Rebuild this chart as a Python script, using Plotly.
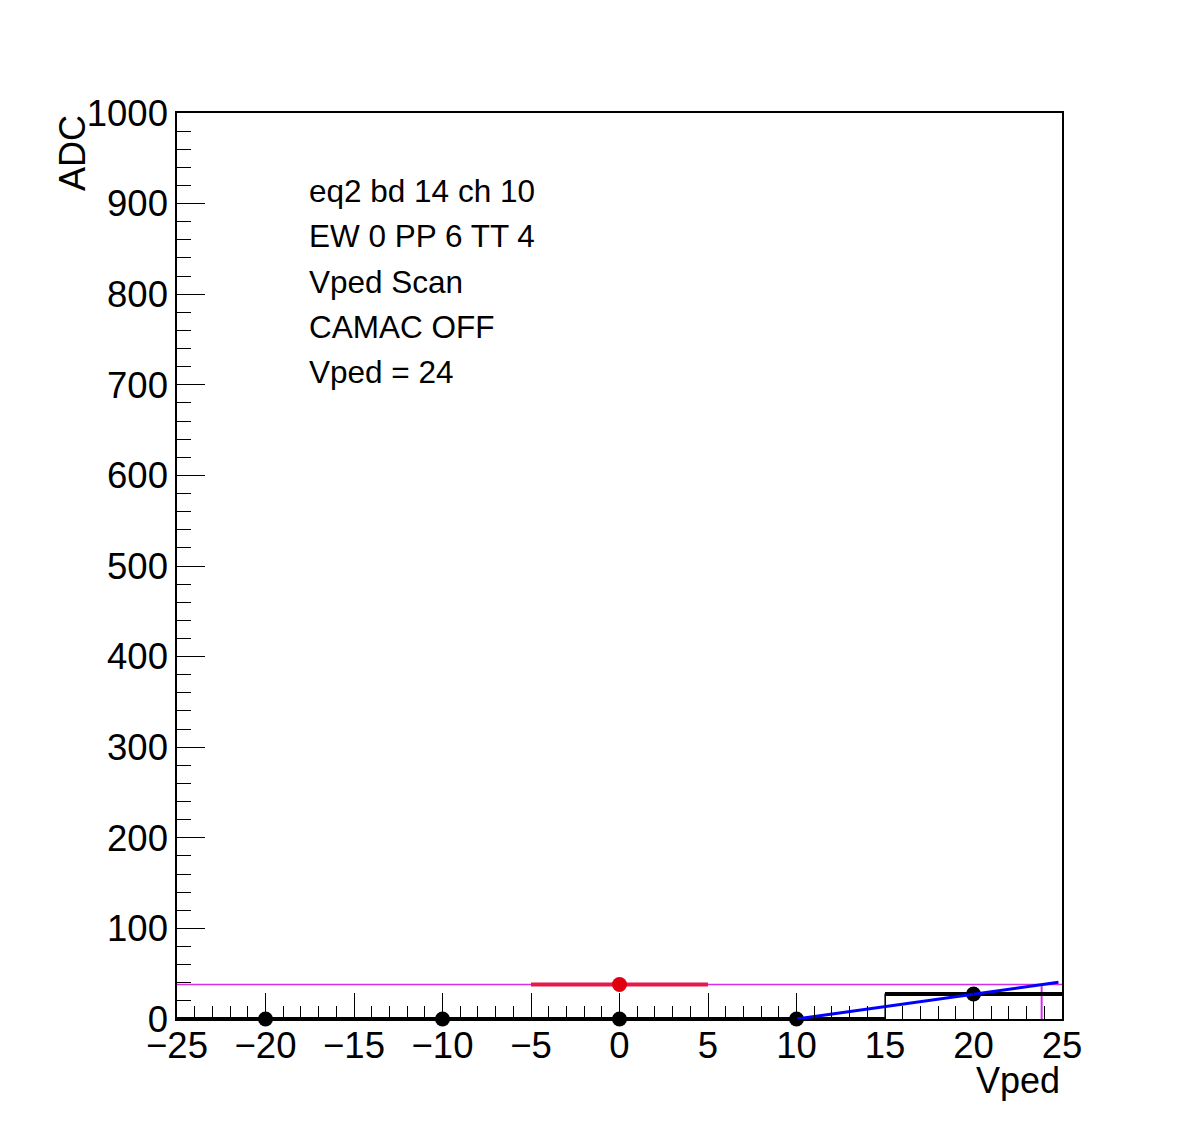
import plotly.graph_objects as go

# ---- data ----
bin_centers = [-20, -10, 0, 10, 20]
bin_contents = [0, 0, 0, 0, 27.6]
bin_width = 10

ped_x = [0]
ped_y = [38]
ped_xerr = [5]

fit_x = [10, 24.8]
fit_y = [0, 40.5]

ped_level = 38
vped_cross = 23.85

x_range = [-25, 25]
y_range = [0, 1000]

info_lines = ["eq2 bd 14 ch 10", "EW 0 PP 6 TT 4", "Vped Scan", "CAMAC OFF", "Vped = 24"]

FONT = "Liberation Sans, Arial, Helvetica, sans-serif"

fig = go.Figure()

# magenta horizontal pedestal level
fig.add_trace(go.Scatter(x=x_range, y=[ped_level, ped_level], mode="lines",
                         line=dict(color="#d62ee6", width=1.5), showlegend=False, hoverinfo="skip"))
# magenta vertical at crossing
fig.add_trace(go.Scatter(x=[vped_cross, vped_cross], y=[0, ped_level], mode="lines",
                         line=dict(color="#d62ee6", width=2), showlegend=False, hoverinfo="skip"))

# histogram thin outline (step)
edges = [c - bin_width / 2 for c in bin_centers] + [bin_centers[-1] + bin_width / 2]
step_y = bin_contents + [bin_contents[-1]]
fig.add_trace(go.Scatter(x=edges, y=step_y, mode="lines", line_shape="hv",
                         line=dict(color="black", width=1.2), showlegend=False, hoverinfo="skip"))
# histogram thick horizontal bars
hx, hy = [], []
for c, v in zip(bin_centers, bin_contents):
    hx += [c - bin_width / 2, c + bin_width / 2, None]
    hy += [v, v, None]
fig.add_trace(go.Scatter(x=hx, y=hy, mode="lines",
                         line=dict(color="black", width=4), showlegend=False, hoverinfo="skip"))

# histogram markers
fig.add_trace(go.Scatter(x=bin_centers, y=bin_contents, mode="markers", cliponaxis=False,
                         marker=dict(color="black", size=15), showlegend=False, hoverinfo="skip"))

# red pedestal point with x error
fig.add_trace(go.Scatter(x=ped_x, y=ped_y, mode="markers", cliponaxis=False,
                         marker=dict(color="#e00010", size=15),
                         error_x=dict(type="data", array=ped_xerr, symmetric=True,
                                      color="#e8194a", thickness=4, width=0),
                         showlegend=False, hoverinfo="skip"))

# blue fit line
fig.add_trace(go.Scatter(x=fit_x, y=fit_y, mode="lines",
                         line=dict(color="#0000ff", width=3), showlegend=False, hoverinfo="skip"))

# info text
y0_pix = 191
for i, t in enumerate(info_lines):
    ypix = y0_pix + i * 45.3
    fig.add_annotation(x=(307 - 177) / 885, y=(1019 - ypix) / 906, xref="paper", yref="paper",
                       text=t, showarrow=False, xanchor="left", yanchor="middle",
                       font=dict(family=FONT, size=31.5, color="black"))

# axis titles
fig.add_annotation(x=(72 - 177) / 885, y=1, xref="paper", yref="paper", text="ADC",
                   textangle=-90, showarrow=False, xanchor="center", yanchor="top",
                   font=dict(family=FONT, size=36, color="black"))
fig.add_annotation(x=1, y=(1019 - 1080) / 906, xref="paper", yref="paper", text="Vped",
                   showarrow=False, xanchor="right", yanchor="middle",
                   font=dict(family=FONT, size=36, color="black"))

fig.update_xaxes(range=x_range, dtick=5, tick0=-25, ticks="inside", ticklen=26, tickwidth=1.2,
                 tickcolor="black", showline=True, linecolor="black", linewidth=1.5, mirror=True,
                 showgrid=False, zeroline=False, ticklabelstandoff=-7,
                 tickfont=dict(family=FONT, size=36.5, color="black"),
                 minor=dict(dtick=1, tick0=-25, ticks="inside", ticklen=13, tickwidth=1.2,
                            tickcolor="black", showgrid=False))
fig.update_yaxes(range=y_range, dtick=100, ticks="inside", ticklen=28, tickwidth=1.2,
                 tickcolor="black", showline=True, linecolor="black", linewidth=1.5, mirror=True,
                 showgrid=False, zeroline=False,
                 tickfont=dict(family=FONT, size=36.5, color="black"),
                 minor=dict(dtick=20, ticks="inside", ticklen=14, tickwidth=1.2,
                            tickcolor="black", showgrid=False))

fig.update_layout(width=1181, height=1133, margin=dict(l=169, r=127, t=105, b=122, pad=0),
                  paper_bgcolor="white", plot_bgcolor="white", showlegend=False)

fig.write_html("out.html")
